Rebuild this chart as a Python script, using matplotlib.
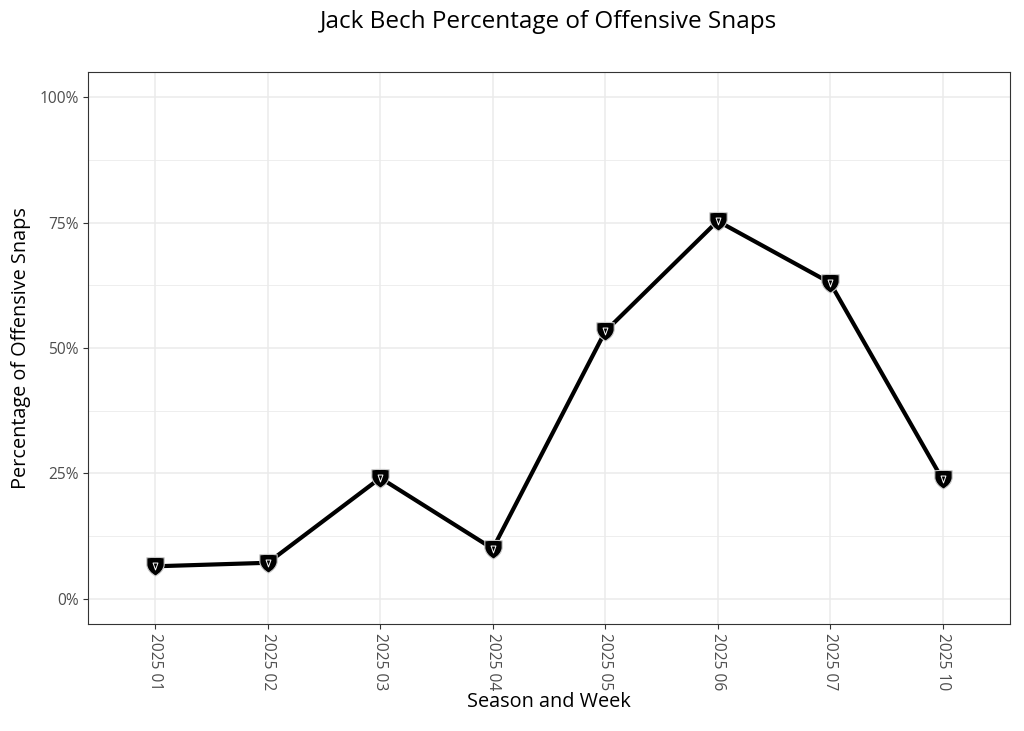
import matplotlib
matplotlib.use("Agg")
import matplotlib.pyplot as plt
from matplotlib.path import Path
from matplotlib.ticker import FuncFormatter, MultipleLocator
import numpy as np

weeks = ["2025 01", "2025 02", "2025 03", "2025 04", "2025 05", "2025 06", "2025 07", "2025 10"]
snap_pct = [0.065, 0.072, 0.241, 0.100, 0.533, 0.753, 0.630, 0.238]

plt.rcParams['font.family'] = ['Open Sans', 'DejaVu Sans']

fig = plt.figure(figsize=(10.24, 7.31), dpi=100)
ax = fig.add_axes([88/1024, 1-624/731, (1010-88)/1024, (624-72)/731])

x = np.arange(len(weeks))

# shield-shaped marker
verts = [(-1.0, 1.0), (0.0, 1.12), (1.0, 1.0), (1.0, 0.15), (0.9, -0.6), (0.0, -1.1),
         (-0.9, -0.6), (-1.0, 0.15), (-1.0, 1.0)]
codes = [Path.MOVETO, Path.CURVE3, Path.CURVE3, Path.LINETO, Path.CURVE3, Path.CURVE3,
         Path.CURVE3, Path.CURVE3, Path.CLOSEPOLY]
shield = Path(verts, codes)
inner_verts = [(-0.35, 0.5), (0.35, 0.5), (0.0, -0.5), (-0.35, 0.5)]
inner = Path(inner_verts, [Path.MOVETO, Path.LINETO, Path.LINETO, Path.CLOSEPOLY])

ax.plot(x, snap_pct, color='black', lw=3, zorder=3, solid_capstyle='butt')
ax.plot(x, snap_pct, linestyle='none', marker=shield, markersize=14,
        markerfacecolor='black', markeredgecolor='#cccccc', markeredgewidth=0.8, zorder=4)
ax.plot(x, snap_pct, linestyle='none', marker=inner, markersize=5,
        markerfacecolor='none', markeredgecolor='white', markeredgewidth=0.7, zorder=5)

ax.set_xlim(-0.6, len(weeks) - 1 + 0.6)
ax.set_ylim(-0.05, 1.05)
ax.set_xticks(x)
ax.set_xticklabels(weeks, rotation=270, ha='center', va='top')
ax.yaxis.set_major_locator(MultipleLocator(0.25))
ax.yaxis.set_minor_locator(MultipleLocator(0.125))
ax.yaxis.set_major_formatter(FuncFormatter(lambda v, p: f"{v*100:.0f}%"))

ax.grid(True, which='major', color='#EBEBEB', lw=1.1, zorder=0)
ax.grid(True, which='minor', axis='y', color='#EBEBEB', lw=0.6, zorder=0)
ax.set_axisbelow(True)
for s in ax.spines.values():
    s.set_color('#333333')
    s.set_linewidth(0.8)
ax.tick_params(axis='both', which='major', length=3.5, width=0.8, color='#333333',
               labelcolor='#4D4D4D', labelsize=11.2, pad=3)
ax.tick_params(axis='y', which='minor', length=0)

ax.set_xlabel("Season and Week", fontsize=14.3, color='black', labelpad=1)
ax.set_ylabel("Percentage of Offensive Snaps", fontsize=14.3, color='black', labelpad=6)
fig.suptitle("Jack Bech Percentage of Offensive Snaps", fontsize=17.5, x=(88+1010)/2/1024,
             y=1-22/731, va='center')

fig.savefig("out.png", dpi=100)
